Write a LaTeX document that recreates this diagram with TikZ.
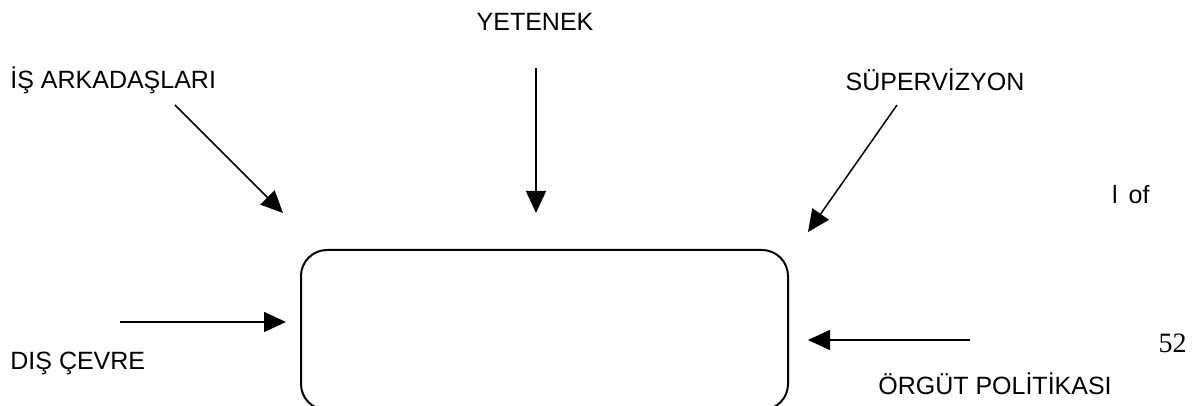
\documentclass[tikz,border=0pt]{standalone}
\usepackage{fontspec}
\setmainfont{Liberation Sans}
\newfontfamily\serifnum{Liberation Serif}
\usetikzlibrary{arrows.meta}
\begin{document}
\begin{tikzpicture}[x=0.5pt,y=-0.5pt,
  lbl/.style={font=\fontsize{12.5pt}{14pt}\selectfont, inner sep=0pt},
  arr/.style={line width=0.75pt, -{Triangle[length=11pt,width=10pt]}},
  rbox/.style={draw, line width=1pt, rounded corners=13pt}]
\useasboundingbox (0,0) rectangle (1196,406);
\clip (0,0) rectangle (1196,406);
% central box
\draw[rbox] (301,250) rectangle (788,410);
% labels
\node[lbl] (yet) at (535,22) {YETENEK};
\node[lbl, anchor=west] (is) at (10,80) {İŞ ARKADAŞLARI};
\node[lbl] (sup) at (935,80) {SÜPERVİZYON};
\node[lbl, anchor=west] (dis) at (10,363) {DIŞ ÇEVRE};
\node[lbl] (org) at (995,384) {ÖRGÜT POLİTİKASI};
\node[lbl, anchor=east] (lof) at (1150,195) {l\, of};
\node[inner sep=0pt, font=\serifnum\fontsize{14pt}{16pt}\selectfont, anchor=east] (num) at (1187,343) {52};
% arrow endpoints
\coordinate (a1s) at (175,105); \coordinate (a1e) at (283,213);
\coordinate (a2s) at (536,68);  \coordinate (a2e) at (536,213);
\coordinate (a3s) at (897,105); \coordinate (a3e) at (808,232);
\coordinate (a4s) at (120,322); \coordinate (a4e) at (286,322);
\coordinate (a5s) at (970,340); \coordinate (a5e) at (808,340);
\draw[arr] (a1s) -- (a1e);
\draw[arr] (a2s) -- (a2e);
\draw[arr] (a3s) -- (a3e);
\draw[arr] (a4s) -- (a4e);
\draw[arr] (a5s) -- (a5e);
\end{tikzpicture}
\end{document}
